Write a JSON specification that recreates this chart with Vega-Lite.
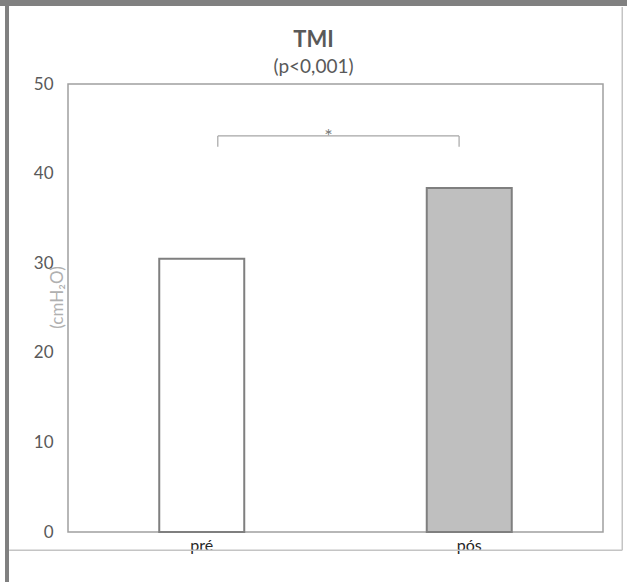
{
  "$schema": "https://vega.github.io/schema/vega-lite/v6.json",
  "width": 535,
  "height": 448,
  "autosize": {"type": "none"},
  "padding": {"left": 68, "top": 84, "right": 24, "bottom": 50},
  "background": "white",
  "config": {
    "font": "Lato",
    "view": {"stroke": "#a0a0a0", "strokeWidth": 1.5}
  },
  "title": {
    "text": "TMI",
    "subtitle": "(p<0,001)",
    "anchor": "middle",
    "frame": "group",
    "dx": -22,
    "offset": -80,
    "fontSize": 22,
    "fontWeight": "bold",
    "color": "#595959",
    "subtitleFontSize": 19,
    "subtitleColor": "#595959",
    "subtitlePadding": 6,
    "font": "Lato",
    "subtitleFont": "Lato"
  },
  "datasets": {
    "bars": [
      {"grupo": "pré", "valor": 30.5},
      {"grupo": "pós", "valor": 38.4}
    ],
    "bracket": [
      {"x": 0.28, "x2": 0.731, "y": 44.2, "y2": 44.2},
      {"x": 0.28, "x2": 0.28, "y": 44.2, "y2": 43.0},
      {"x": 0.731, "x2": 0.731, "y": 44.2, "y2": 43.0}
    ],
    "star": [{"x": 0.487, "y": 43.45, "label": "*"}],
    "frameLight": [
      {"x": -0.11, "x2": 1.036, "y": -2.05, "y2": -2.05},
      {"x": 1.036, "x2": 1.036, "y": -2.05, "y2": 58.6}
    ],
    "frameTop": [{"x": -0.2, "x2": 1.2, "y": 59.05, "y2": 59.05}],
    "frameLeft": [{"x": -0.114, "x2": -0.114, "y": 59.4, "y2": -7}]
  },
  "layer": [
    {
      "data": {"name": "bars"},
      "mark": {"type": "bar", "size": 85, "stroke": "#7f7f7f", "strokeWidth": 2},
      "encoding": {
        "x": {
          "field": "grupo",
          "type": "nominal",
          "sort": ["pré", "pós"],
          "scale": {"paddingInner": 0, "paddingOuter": 0},
          "axis": {
            "title": null,
            "labelAngle": 0,
            "labelFontSize": 16,
            "labelColor": "#262626",
            "labelPadding": 5,
            "ticks": false,
            "domain": false
          }
        },
        "y": {
          "field": "valor",
          "type": "quantitative",
          "scale": {"domain": [0, 50], "nice": false, "zero": true},
          "axis": {
            "title": "(cmH₂O)",
            "titleColor": "#b0b0b0",
            "titleFontSize": 17,
            "titleFontWeight": "normal",
            "titleX": -2,
            "titleY": 213,
            "titleAngle": -90,
            "values": [0, 10, 20, 30, 40, 50],
            "labelFontSize": 17,
            "labelColor": "#595959",
            "labelPadding": 15,
            "ticks": false,
            "domain": false,
            "grid": false
          }
        },
        "color": {
          "field": "grupo",
          "type": "nominal",
          "scale": {"domain": ["pré", "pós"], "range": ["#ffffff", "#bfbfbf"]},
          "legend": null
        }
      }
    },
    {
      "data": {"name": "bracket"},
      "mark": {"type": "rule", "color": "#a6a6a6", "strokeWidth": 1.2, "clip": false},
      "encoding": {
        "x": {"field": "x", "type": "quantitative", "scale": {"domain": [0, 1], "nice": false, "zero": false}, "axis": null},
        "x2": {"field": "x2"},
        "y": {"field": "y", "type": "quantitative", "scale": {"domain": [0, 50], "nice": false}},
        "y2": {"field": "y2"}
      }
    },
    {
      "data": {"name": "star"},
      "mark": {"type": "text", "color": "#7a7a7a", "fontSize": 20, "baseline": "alphabetic", "clip": false},
      "encoding": {
        "x": {"field": "x", "type": "quantitative", "scale": {"domain": [0, 1], "nice": false, "zero": false}, "axis": null},
        "y": {"field": "y", "type": "quantitative", "scale": {"domain": [0, 50], "nice": false}},
        "text": {"field": "label"}
      }
    },
    {
      "data": {"name": "frameLight"},
      "mark": {"type": "rule", "color": "#c4c4c4", "strokeWidth": 1.5, "clip": false},
      "encoding": {
        "x": {"field": "x", "type": "quantitative", "scale": {"domain": [0, 1], "nice": false, "zero": false}, "axis": null},
        "x2": {"field": "x2"},
        "y": {"field": "y", "type": "quantitative", "scale": {"domain": [0, 50], "nice": false}},
        "y2": {"field": "y2"}
      }
    },
    {
      "data": {"name": "frameTop"},
      "mark": {"type": "rule", "color": "#808080", "strokeWidth": 6, "clip": false},
      "encoding": {
        "x": {"field": "x", "type": "quantitative", "scale": {"domain": [0, 1], "nice": false, "zero": false}, "axis": null},
        "x2": {"field": "x2"},
        "y": {"field": "y", "type": "quantitative", "scale": {"domain": [0, 50], "nice": false}},
        "y2": {"field": "y2"}
      }
    },
    {
      "data": {"name": "frameLeft"},
      "mark": {"type": "rule", "color": "#808080", "strokeWidth": 4, "clip": false},
      "encoding": {
        "x": {"field": "x", "type": "quantitative", "scale": {"domain": [0, 1], "nice": false, "zero": false}, "axis": null},
        "x2": {"field": "x2"},
        "y": {"field": "y", "type": "quantitative", "scale": {"domain": [0, 50], "nice": false}},
        "y2": {"field": "y2"}
      }
    }
  ],
  "resolve": {"scale": {"x": "independent"}}
}
